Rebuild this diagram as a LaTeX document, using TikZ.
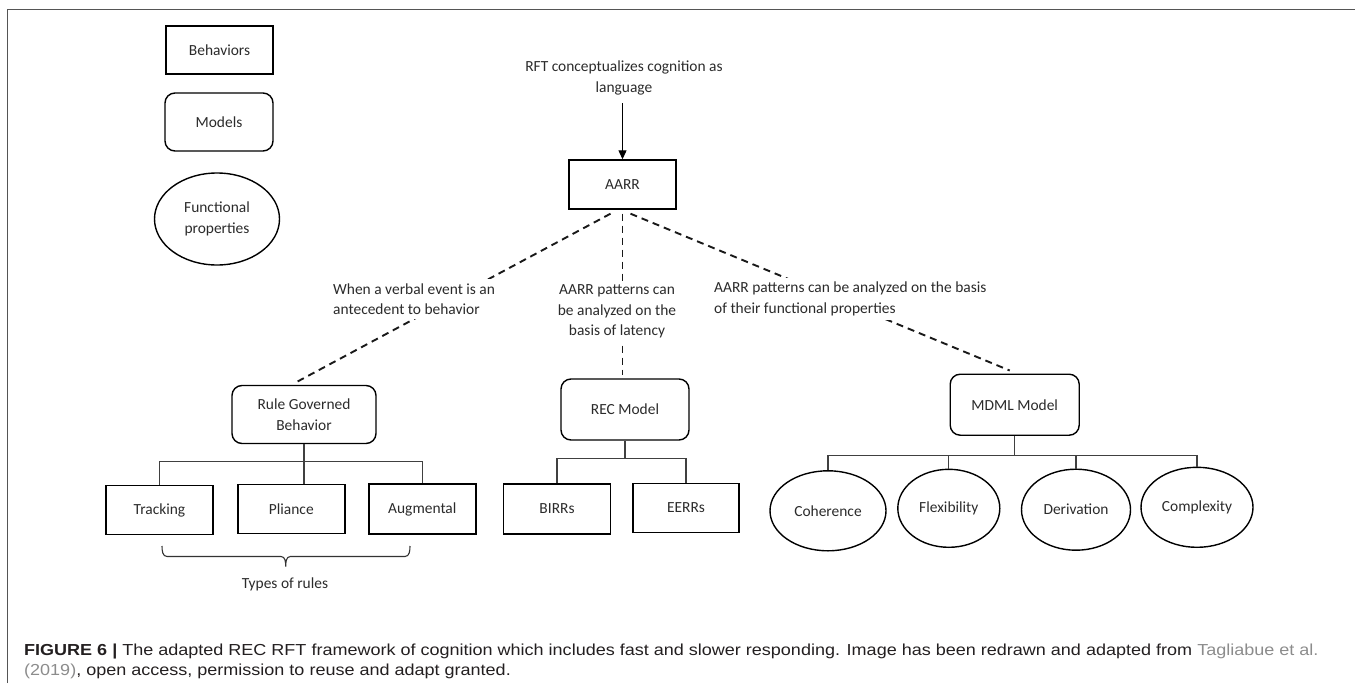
\documentclass[tikz,border=0pt]{standalone}
\usepackage{fontspec}
\setmainfont{Carlito}
\newfontfamily\capfont{Liberation Sans}
\usetikzlibrary{shapes.geometric,arrows.meta,calc}
\definecolor{ink}{HTML}{2B2B2B}
\definecolor{capink}{HTML}{231F20}
\definecolor{citegray}{HTML}{8C8C8C}
\definecolor{framegray}{HTML}{555555}

\begin{document}
\begin{tikzpicture}[x=1bp,y=-1bp,
  every node/.style={font=\fontsize{15.5}{20.5}\selectfont, text=ink},
  box/.style={draw=black, line width=1.4bp, inner sep=2bp, align=center},
  rbox/.style={box, rounded corners=10bp},
  oval/.style={draw=black, ellipse, line width=1.4bp, inner sep=0pt, align=center},
  dashlink/.style={line width=1.9bp, draw=black!90, dash pattern=on 7bp off 5bp},
  tree/.style={line width=1.1bp, draw=black!75},
  lbl/.style={fill=white, inner sep=4bp},
]
\useasboundingbox (0,0) rectangle (1355,683);

% frame
\draw[framegray, line width=1.3bp] (7.3,683) -- (7.3,9.3) -- (1355,9.3);

% legend
\node[box, minimum width=107bp, minimum height=48bp] (beh) at (219.5,50) {Behaviors};
\node[rbox, minimum width=108bp, minimum height=58bp] (mod) at (219,122) {Models};
\node[oval, minimum width=125bp, minimum height=92bp] (fp) at (217,219) {Functional\\properties};

% top of the framework
\node[inner sep=2bp, align=center] (rft) at (624,78) {RFT conceptualizes cognition as\\language};
\node[box, minimum width=107bp, minimum height=49bp] (aarr) at (622.5,184.5) {AARR};

% second level
\node[rbox, minimum width=144bp, minimum height=58bp] (rgb) at (304,414.5) {Rule Governed\\Behavior};
\node[rbox, minimum width=128bp, minimum height=61bp] (rec) at (625,409.5) {REC Model};
\node[rbox, minimum width=129bp, minimum height=61bp] (mdml) at (1014.7,404.7) {MDML Model};

% rule types
\node[box, minimum width=107bp, minimum height=49bp] (track) at (159.5,510) {Tracking};
\node[box, minimum width=107bp, minimum height=49bp] (pli) at (291.3,509) {Pliance};
\node[box, minimum width=107bp, minimum height=50bp] (aug) at (422.3,509) {Augmental};

% relational responding types
\node[box, minimum width=107bp, minimum height=50bp] (birr) at (557,509) {BIRRs};
\node[box, minimum width=106bp, minimum height=49bp] (eerr) at (686,508) {EERRs};

% functional properties
\node[oval, minimum width=116bp, minimum height=80bp] (coh) at (828,510.8) {Coherence};
\node[oval, minimum width=102bp, minimum height=78bp] (flex) at (948.8,508.3) {Flexibility};
\node[oval, minimum width=109bp, minimum height=81bp] (der) at (1076,509.7) {Derivation};
\node[oval, minimum width=112bp, minimum height=80bp] (cplx) at (1197,507.3) {Complexity};

% arrow into AARR
\draw[line width=1.1bp, -{Triangle[width=8bp,length=9bp]}, shorten <=6bp]
  (rft.south -| aarr.north) -- (aarr.north);

% dashed branches from AARR
\draw[dashlink] ([xshift=-12bp,yshift=-4bp]aarr.south) -- ([xshift=-7bp,yshift=3bp]rgb.north);
\draw[dashlink] ([yshift=-4bp]aarr.south) -- ([yshift=3bp]aarr.south |- rec.north);
\draw[dashlink] ([xshift=8bp,yshift=-4bp]aarr.south) -- ([xshift=-5bp,yshift=3bp]mdml.north);

% branch labels
\node[lbl, anchor=west, align=left] (lblrule) at (329,299)
  {When a verbal event is an\\antecedent to behavior};
\node[lbl, align=center] (lbllat) at (617,311.5)
  {AARR patterns can\\be analyzed on the\\basis of latency};
\node[lbl, anchor=west, align=left] (lblfun) at (710,299)
  {AARR patterns can be analyzed on the basis\\of their functional properties};

% tree under Rule Governed Behavior
\draw[tree] (rgb.south) -- ++(0,17.5) coordinate (rgbj);
\draw[tree] (track.north) |- (rgbj) -| (aug.north);
\draw[tree] (rgbj) -- (rgbj |- pli.north);

% tree under REC Model
\draw[tree] (rec.south) -- ++(0,17.5) coordinate (recj);
\draw[tree] (birr.north) |- (recj) -| (eerr.north);

% tree under MDML Model
\draw[tree] (mdml.south) -- ++(0,19.7) coordinate (mdmlj);
\draw[tree] (coh.north) |- (mdmlj) -| (cplx.north);
\draw[tree] (flex.north) -- (flex.north |- mdmlj);
\draw[tree] (der.north) -- (der.north |- mdmlj);

% brace under the rule types
\coordinate (brl) at (162,546);
\coordinate (brr) at (410,546);
\coordinate (brm) at (285.7,566.5);
\draw[line width=1.1bp, draw=black!80]
  (brl) to[out=-90,in=180] (167,556.5) -- (281,556.5)
  to[out=0,in=90] (brm) to[out=90,in=180] (290.4,556.5) -- (405,556.5)
  to[out=0,in=-90] (brr);
\node (types) at (285,584.3) {Types of rules};

% caption (two lines; the base anchor sits on the last line)
\node[anchor=base west, inner sep=0pt, text=capink,
      font=\capfont\fontsize{16}{20.5}\selectfont] (cap) at (24,675.5)
  {\scalebox{1.13}[1]{\begin{tabular}[b]{@{}l@{}}%
   \textbf{FIGURE 6 |} The adapted REC RFT framework of cognition which includes fast and slower responding. Image has been redrawn and adapted from \textcolor{citegray}{Tagliabue et al.}\\
   \textcolor{citegray}{(2019)}, open access, permission to reuse and adapt granted.\end{tabular}}};

\end{tikzpicture}
\end{document}
